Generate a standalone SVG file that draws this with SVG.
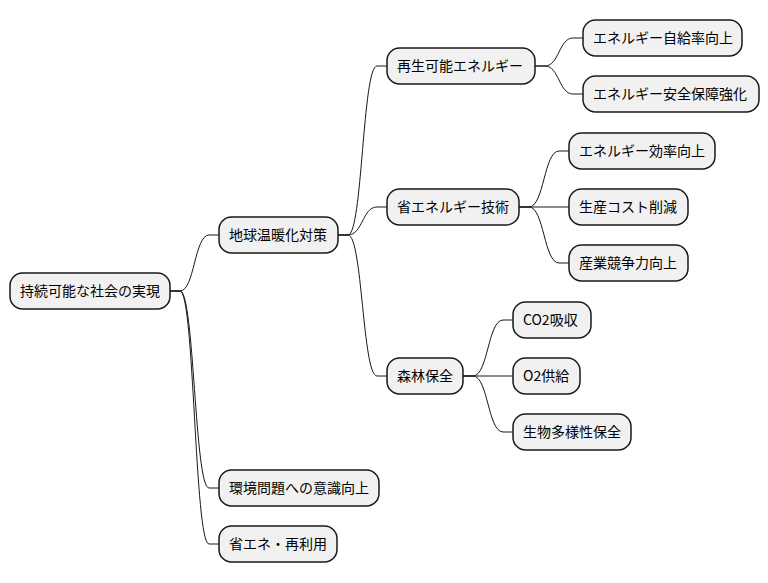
<svg xmlns="http://www.w3.org/2000/svg" width="768" height="583" viewBox="0 0 768 583">
<style>
.box{fill:#F1F1F1;stroke:#181818;stroke-width:1.5}
.t{font-family:"Noto Sans CJK JP","Noto Sans",sans-serif;font-size:14px;fill:#000}
.e{fill:none;stroke:#181818;stroke-width:1}
</style>
<rect width="768" height="583" fill="#FFFFFF"/>
<g id="connectors">
<path class="e" d="M170,291 H180 C194.5,291 194.5,235 209,235 H219"/>
<path class="e" d="M170,291 H180 C194.5,291 194.5,488 209,488 H219"/>
<path class="e" d="M170,291 H180 C194.5,291 194.5,544 209,544 H219"/>
<path class="e" d="M338,235 H348 C362.5,235 362.5,66 377,66 H387"/>
<path class="e" d="M338,235 H348 C362.5,235 362.5,207 377,207 H387"/>
<path class="e" d="M338,235 H348 C362.5,235 362.5,376 377,376 H387"/>
<path class="e" d="M535,66 H545 C559,66 559,38 573,38 H583"/>
<path class="e" d="M535,66 H545 C559,66 559,94 573,94 H583"/>
<path class="e" d="M519,207 H529 C544,207 544,151 559,151 H569"/>
<path class="e" d="M519,207 H569"/>
<path class="e" d="M519,207 H529 C544,207 544,263 559,263 H569"/>
<path class="e" d="M463,376 H473 C488,376 488,320 503,320 H513"/>
<path class="e" d="M463,376 H513"/>
<path class="e" d="M463,376 H473 C488,376 488,432 503,432 H513"/>
</g>
<g id="root"><rect class="box" x="10" y="273" width="160" height="36" rx="12.5"/><text class="t" x="20" y="296">持続可能な社会の実現</text></g>
<g id="n1"><rect class="box" x="219" y="217" width="119" height="36" rx="12.5"/><text class="t" x="229" y="240">地球温暖化対策</text></g>
<g id="n11"><rect class="box" x="387" y="48" width="148" height="36" rx="12.5"/><text class="t" x="397" y="71">再生可能エネルギー</text></g>
<g id="n111"><rect class="box" x="583" y="20" width="159" height="36" rx="12.5"/><text class="t" x="593" y="43">エネルギー自給率向上</text></g>
<g id="n112"><rect class="box" x="583" y="76" width="176" height="36" rx="12.5"/><text class="t" x="593" y="99">エネルギー安全保障強化</text></g>
<g id="n12"><rect class="box" x="387" y="189" width="132" height="36" rx="12.5"/><text class="t" x="397" y="212">省エネルギー技術</text></g>
<g id="n121"><rect class="box" x="569" y="133" width="146" height="36" rx="12.5"/><text class="t" x="579" y="156">エネルギー効率向上</text></g>
<g id="n122"><rect class="box" x="569" y="189" width="119" height="36" rx="12.5"/><text class="t" x="579" y="212">生産コスト削減</text></g>
<g id="n123"><rect class="box" x="569" y="245" width="119" height="36" rx="12.5"/><text class="t" x="579" y="268">産業競争力向上</text></g>
<g id="n13"><rect class="box" x="387" y="358" width="76" height="36" rx="12.5"/><text class="t" x="397" y="381">森林保全</text></g>
<g id="n131"><rect class="box" x="513" y="302" width="78" height="36" rx="12.5"/><text class="t" x="523" y="325">CO2吸収</text></g>
<g id="n132"><rect class="box" x="513" y="358" width="67" height="36" rx="12.5"/><text class="t" x="523" y="381">O2供給</text></g>
<g id="n133"><rect class="box" x="513" y="414" width="118" height="36" rx="12.5"/><text class="t" x="523" y="437">生物多様性保全</text></g>
<g id="n2"><rect class="box" x="219" y="470" width="160" height="36" rx="12.5"/><text class="t" x="229" y="493">環境問題への意識向上</text></g>
<g id="n3"><rect class="box" x="219" y="526" width="118" height="36" rx="12.5"/><text class="t" x="229" y="549">省エネ・再利用</text></g>
</svg>
